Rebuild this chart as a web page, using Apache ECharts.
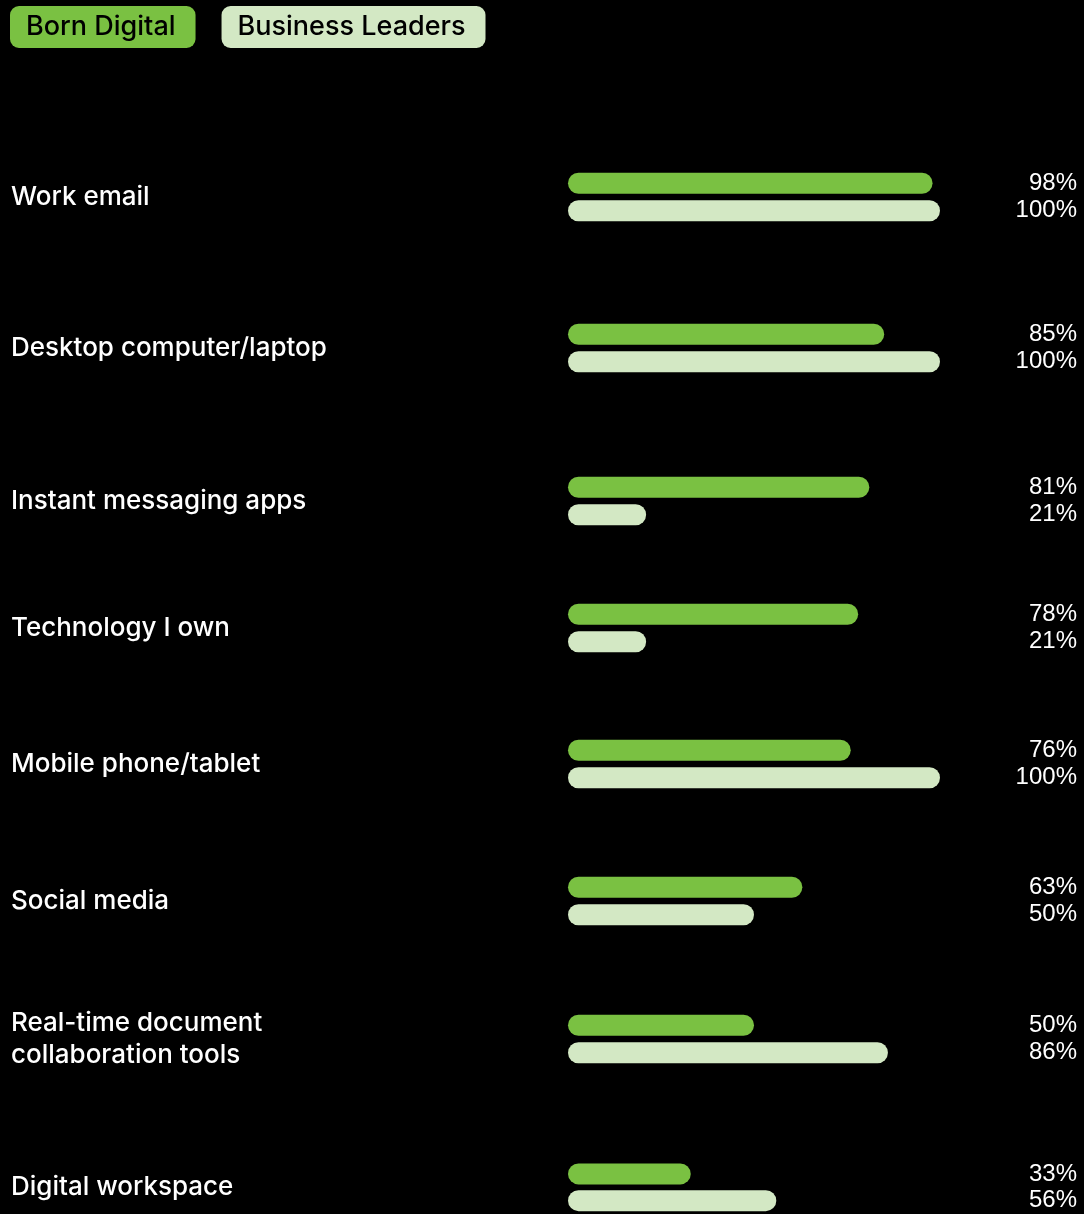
<!DOCTYPE html>
<html>
<head>
<meta charset="utf-8">
<script src="https://cdn.jsdelivr.net/npm/echarts@6/dist/echarts.min.js"></script>
<style>
html,body{margin:0;padding:0;background:#000;}
#chart{width:1084px;height:1214px;}
</style>
</head>
<body>
<div id="chart"></div>
<script>
// ---- data ----
const categories = [
  'Work email',
  'Desktop computer/laptop',
  'Instant messaging apps',
  'Technology I own',
  'Mobile phone/tablet',
  'Social media',
  'Real-time document\ncollaboration tools',
  'Digital workspace'
];
const seriesNames = ['Born Digital', 'Business Leaders'];
const bornDigital = [98, 85, 81, 78, 76, 63, 50, 33];
const businessLeaders = [100, 100, 21, 21, 100, 50, 86, 56];

// ---- layout ----
const rowCenters = [197, 348, 501, 628, 764, 901, 1039, 1188];
const rowHeight = 55;
const colors = ['#7AC142', '#D3E8C4'];
const labelFont = 'Inter, "Noto Sans", sans-serif';
const valueFont = '"Liberation Sans", Arial, sans-serif';

const grids = [], xAxes = [], yAxes = [], series = [];
categories.forEach((cat, i) => {
  grids.push({ left: 568, right: 144, top: rowCenters[i] - rowHeight / 2, height: rowHeight, containLabel: false });
  xAxes.push({ gridIndex: i, type: 'value', min: 0, max: 100, show: false });
  yAxes.push({ gridIndex: i, type: 'category', data: seriesNames, inverse: true, show: false });
  yAxes.push({
    gridIndex: i, type: 'category', position: 'right', inverse: true,
    data: [bornDigital[i] + '%', businessLeaders[i] + '%'],
    axisLine: { show: false }, axisTick: { show: false },
    axisLabel: { interval: 0, hideOverlap: false, align: 'right', margin: 137, color: '#fff', fontSize: 24, fontFamily: valueFont }
  });
  yAxes.push({
    gridIndex: i, type: 'category', position: 'left',
    data: [cat],
    axisLine: { show: false }, axisTick: { show: false },
    axisLabel: { interval: 0, align: 'left', margin: 557, color: '#fff', fontSize: 26, fontWeight: 500, lineHeight: 32, fontFamily: labelFont }
  });
  const yIdx = i * 3;
  series.push({
    name: seriesNames[0], type: 'bar', xAxisIndex: i, yAxisIndex: yIdx,
    data: [bornDigital[i], '-'], barWidth: 21, barGap: '-100%',
    itemStyle: { color: colors[0], borderRadius: 11 }, silent: true
  });
  series.push({
    name: seriesNames[1], type: 'bar', xAxisIndex: i, yAxisIndex: yIdx,
    data: ['-', businessLeaders[i]], barWidth: 21, barGap: '-100%',
    itemStyle: { color: colors[1], borderRadius: 11 }, silent: true
  });
});

const chart = echarts.init(document.getElementById('chart'));
chart.setOption({
  backgroundColor: '#000',
  animation: false,
  legend: {
    left: 5, top: 6, padding: 0, itemGap: 21, itemWidth: 0, itemHeight: 0,
    data: seriesNames.map((n, k) => ({
      name: n, icon: 'none',
      textStyle: {
        color: '#000', fontSize: 27, fontWeight: 500, fontFamily: labelFont,
        backgroundColor: colors[k], borderRadius: 9, padding: [7, 20, 7, 16],
        lineHeight: 28
      }
    }))
  },
  grid: grids,
  xAxis: xAxes,
  yAxis: yAxes,
  series: series
});
</script>
</body>
</html>
